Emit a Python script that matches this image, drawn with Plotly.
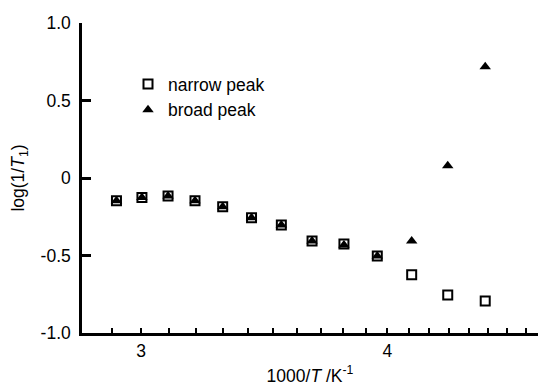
import plotly.graph_objects as go
import numpy as np

inv_T = [2.915, 3.003, 3.096, 3.195, 3.300, 3.413, 3.534, 3.663, 3.802, 3.953, 4.115, 4.292, 4.484]
narrow = [-0.146, -0.125, -0.116, -0.146, -0.185, -0.256, -0.303, -0.406, -0.425, -0.503, -0.624, -0.755, -0.794]
broad = [-0.146, -0.125, -0.116, -0.146, -0.185, -0.256, -0.303, -0.406, -0.432, -0.503, -0.406, 0.079, 0.718]

x_ticks = [round(2.9 + 0.1 * i, 1) for i in range(19)]
x_text = ["3" if v == 3.0 else ("4" if v == 4.0 else "") for v in x_ticks]
y_ticks = [-1.0, -0.5, 0.0, 0.5, 1.0]
y_text = ["-1.0", "-0.5", "0", "0.5", "1.0"]

FONT = "Liberation Sans, Arial, sans-serif"
FS = 17.5

fig = go.Figure()
fig.add_trace(go.Scatter(
    x=inv_T, y=broad, mode="markers", name="broad peak",
    marker=dict(symbol="triangle-up", size=10, color="black", line=dict(width=0)),
    showlegend=False))
fig.add_trace(go.Scatter(
    x=inv_T, y=narrow, mode="markers", name="narrow peak",
    marker=dict(symbol="square-open", size=9, color="black", line=dict(width=2))))
fig.add_trace(go.Scatter(
    x=[None], y=[None], mode="markers", name="broad peak",
    marker=dict(symbol="triangle-up", size=10, color="black")))

W, H = 538, 389
l, r, t, b = 82, 0, 23, 56
px_per_dec = 1977.0
x0 = np.log10(2.8)
x1 = np.log10(3) + (538 - 140) / px_per_dec

fig.update_layout(
    width=W, height=H,
    margin=dict(l=l, r=r, t=t, b=b),
    paper_bgcolor="white", plot_bgcolor="white",
    font=dict(family=FONT, size=FS, color="black"),
    legend=dict(x=(128 - l) / (W - l - r), y=1 - (66 - t) / (H - t - b),
                xanchor="left", yanchor="top", bgcolor="rgba(0,0,0,0)",
                font=dict(size=FS), tracegroupgap=0),
    xaxis=dict(type="log", range=[x0, x1], tickmode="array", tickvals=x_ticks, ticktext=x_text,
               ticks="inside", ticklen=5, tickwidth=2, tickcolor="black",
               showline=True, linewidth=2.5, linecolor="black", showgrid=False, zeroline=False,
               tickfont=dict(size=FS),
               title=dict(text="1000/<i>T</i> /K<sup>-1</sup>", font=dict(size=FS), standoff=10)),
    yaxis=dict(range=[-1, 1], tickmode="array", tickvals=y_ticks, ticktext=y_text,
               ticks="inside", ticklen=9, tickwidth=2.5, tickcolor="black",
               showline=True, linewidth=2.5, linecolor="black", showgrid=False, zeroline=False,
               tickfont=dict(size=FS), ticklabelstandoff=5,
               title=dict(text="log(1/<i>T</i><sub>1</sub>)", font=dict(size=FS), standoff=12)),
)

fig.write_html("out.html")
